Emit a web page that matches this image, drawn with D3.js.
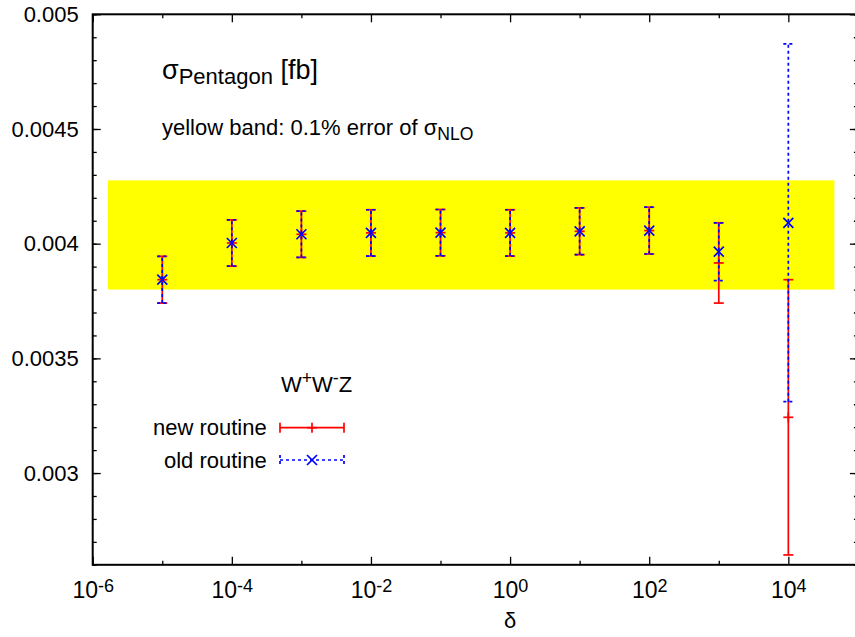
<!DOCTYPE html>
<html>
<head>
<meta charset="utf-8">
<script src="https://cdn.jsdelivr.net/npm/d3@7"></script>
<style>
  body { margin: 0; background: #fff; }
  svg { display: block; }
  text { font-family: "Liberation Sans", Arial, Helvetica, sans-serif; fill: #000; }
</style>
</head>
<body>
<svg id="chart" width="855" height="637"></svg>
<script>
// Cut-off parameter delta and the pentagon contribution for W+W-Z
const deltas = [1e-5, 1e-4, 1e-3, 1e-2, 1e-1, 1, 10, 100, 1000, 1e4];
const newValues = [0.003843, 0.004003, 0.004041, 0.004047, 0.004048, 0.004047, 0.004054, 0.004057, 0.003916, 0.003243];
const newErrors = [0.000102, 0.000101, 0.000101, 0.000101, 0.000101, 0.000101, 0.000102, 0.000102, 0.000175, 0.000600];
const oldValues = [0.003843, 0.004003, 0.004041, 0.004047, 0.004048, 0.004047, 0.004054, 0.004057, 0.003965, 0.004091];
const oldErrors = [0.000102, 0.000101, 0.000101, 0.000101, 0.000101, 0.000101, 0.000102, 0.000102, 0.000126, 0.000780];

// yellow band extent (delta range, cross-section range)
const bandDelta = [1.65e-6, 4.6e4];
const bandSigma = [0.0038, 0.004276];

// axis ticks
const yMajorTicks = [0.003, 0.0035, 0.004, 0.0045, 0.005];
const yTickLabels = ["0.003", "0.0035", "0.004", "0.0045", "0.005"];
const yMinorTicks = d3.range(26, 51).map(v => v / 10000);
const xMajorTicks = [1e-6, 1e-4, 1e-2, 1, 1e2, 1e4];
const xMinorTicks = [1e-5, 1e-3, 1e-1, 10, 1e3, 1e5];

const svg = d3.select("#chart");
const x = d3.scaleLog().domain([1e-6, 1e5]).range([92.7, 857.9]);
const y = d3.scaleLinear().domain([0.0026, 0.005]).range([564.8, 14.3]);
const [xl, xr] = x.range();
const [yb, yt] = y.range();

// band
svg.append("rect")
  .attr("x", x(bandDelta[0])).attr("width", x(bandDelta[1]) - x(bandDelta[0]))
  .attr("y", y(bandSigma[1])).attr("height", y(bandSigma[0]) - y(bandSigma[1]))
  .attr("fill", "#ffff00");

// axes: ticks point inward, labels on bottom and left only
function styleAxis(g) {
  g.select(".domain").remove();
  g.selectAll(".tick line").attr("stroke", "#000").attr("stroke-width", 1.3);
}

const gx = svg.append("g").attr("transform", `translate(0,${yb})`)
  .call(d3.axisBottom(x).tickValues(xMajorTicks).tickSizeInner(-8).tickSizeOuter(0).tickPadding(17)
    .tickFormat(d => Math.round(Math.log10(d))))
  .call(styleAxis);
gx.attr("font-size", null).attr("font-family", null);
gx.selectAll(".tick text")
  .attr("font-size", 23)
  .each(function(d) {
    const t = d3.select(this);
    const e = Math.round(Math.log10(d));
    t.text("10");
    t.append("tspan").attr("dy", "-0.36em").attr("font-size", 18).text(e);
  });
svg.append("g").attr("transform", `translate(0,${yb})`)
  .call(d3.axisBottom(x).tickValues(xMinorTicks).tickSizeInner(-4).tickSizeOuter(0).tickFormat(""))
  .call(styleAxis);
svg.append("g").attr("transform", `translate(0,${yt})`)
  .call(d3.axisTop(x).tickValues(xMajorTicks).tickSizeInner(-8).tickSizeOuter(0).tickFormat(""))
  .call(styleAxis);
svg.append("g").attr("transform", `translate(0,${yt})`)
  .call(d3.axisTop(x).tickValues(xMinorTicks).tickSizeInner(-4).tickSizeOuter(0).tickFormat(""))
  .call(styleAxis);

const gy = svg.append("g").attr("transform", `translate(${xl},0)`)
  .call(d3.axisLeft(y).tickValues(yMajorTicks).tickSizeInner(-8).tickSizeOuter(0).tickPadding(14)
    .tickFormat((d, i) => yTickLabels[i]))
  .call(styleAxis);
gy.attr("font-size", null).attr("font-family", null);
gy.selectAll(".tick text").attr("font-size", 22);
svg.append("g").attr("transform", `translate(${xl},0)`)
  .call(d3.axisLeft(y).tickValues(yMinorTicks).tickSizeInner(-4).tickSizeOuter(0).tickFormat(""))
  .call(styleAxis);
svg.append("g").attr("transform", `translate(${xr},0)`)
  .call(d3.axisRight(y).tickValues(yMajorTicks).tickSizeInner(-8).tickSizeOuter(0).tickFormat(""))
  .call(styleAxis);
svg.append("g").attr("transform", `translate(${xr},0)`)
  .call(d3.axisRight(y).tickValues(yMinorTicks).tickSizeInner(-4).tickSizeOuter(0).tickFormat(""))
  .call(styleAxis);

// frame
svg.append("rect").attr("x", xl).attr("y", yt).attr("width", xr - xl).attr("height", yb - yt)
  .attr("fill", "none").attr("stroke", "#000").attr("stroke-width", 2);

// error bars
const cap = 5;
function drawBars(vals, errs, color, dash, marker) {
  const g = svg.append("g").attr("stroke", color).attr("stroke-width", 1.7).attr("fill", "none");
  deltas.forEach((d, i) => {
    const cx = x(d), lo = y(vals[i] - errs[i]), hi = y(vals[i] + errs[i]), cy = y(vals[i]);
    const s = g.append("g").attr("stroke-dasharray", dash);
    s.append("line").attr("x1", cx).attr("x2", cx).attr("y1", lo).attr("y2", hi);
    s.append("line").attr("x1", cx - cap).attr("x2", cx + cap).attr("y1", lo).attr("y2", lo);
    s.append("line").attr("x1", cx - cap).attr("x2", cx + cap).attr("y1", hi).attr("y2", hi);
    marker(g, cx, cy);
  });
}
const plusMark = (g, cx, cy) => {
  g.append("line").attr("x1", cx - 5).attr("x2", cx + 5).attr("y1", cy).attr("y2", cy);
  g.append("line").attr("x1", cx).attr("x2", cx).attr("y1", cy - 5).attr("y2", cy + 5);
};
const crossMark = (g, cx, cy) => {
  g.append("line").attr("x1", cx - 5).attr("x2", cx + 5).attr("y1", cy - 5).attr("y2", cy + 5);
  g.append("line").attr("x1", cx - 5).attr("x2", cx + 5).attr("y1", cy + 5).attr("y2", cy - 5);
};
drawBars(newValues, newErrors, "#ff0000", null, plusMark);
drawBars(oldValues, oldErrors, "#0000ff", "3,3", crossMark);

// titles
const t1 = svg.append("text").attr("x", 162).attr("y", 79).attr("font-size", 27);
t1.append("tspan").text("σ");
t1.append("tspan").attr("font-size", 22).attr("dy", 5).text("Pentagon");
t1.append("tspan").attr("dy", -5).text(" [fb]");

const t2 = svg.append("text").attr("x", 162).attr("y", 135).attr("font-size", 22);
t2.append("tspan").text("yellow band: 0.1% error of σ");
t2.append("tspan").attr("font-size", 17.6).attr("dy", 5).text("NLO");

// legend
const t3 = svg.append("text").attr("x", 281).attr("y", 392).attr("font-size", 22);
t3.append("tspan").text("W");
t3.append("tspan").attr("font-size", 17.6).attr("dy", -8).text("+");
t3.append("tspan").attr("dy", 8).text("W");
t3.append("tspan").attr("font-size", 17.6).attr("dy", -8).text("-");
t3.append("tspan").attr("dy", 8).text("Z");

const legendItems = [
  { label: "new routine", color: "#ff0000", dash: null, marker: plusMark, yy: 427.7 },
  { label: "old routine", color: "#0000ff", dash: "3,3", marker: crossMark, yy: 460 }
];
const lx0 = 280, lx1 = 344;
legendItems.forEach(it => {
  svg.append("text").attr("x", 266.7).attr("y", it.yy + 7.5).attr("text-anchor", "end")
    .attr("font-size", 22).text(it.label);
  const g = svg.append("g").attr("stroke", it.color).attr("stroke-width", 1.7);
  const s = g.append("g").attr("stroke-dasharray", it.dash);
  s.append("line").attr("x1", lx0).attr("x2", lx1).attr("y1", it.yy).attr("y2", it.yy);
  s.append("line").attr("x1", lx0).attr("x2", lx0).attr("y1", it.yy - 5).attr("y2", it.yy + 5);
  s.append("line").attr("x1", lx1).attr("x2", lx1).attr("y1", it.yy - 5).attr("y2", it.yy + 5);
  it.marker(g, (lx0 + lx1) / 2, it.yy);
});

// x axis title
svg.append("text").attr("x", 510).attr("y", 628).attr("text-anchor", "middle")
  .attr("font-size", 22).text("δ");
</script>
</body>
</html>
